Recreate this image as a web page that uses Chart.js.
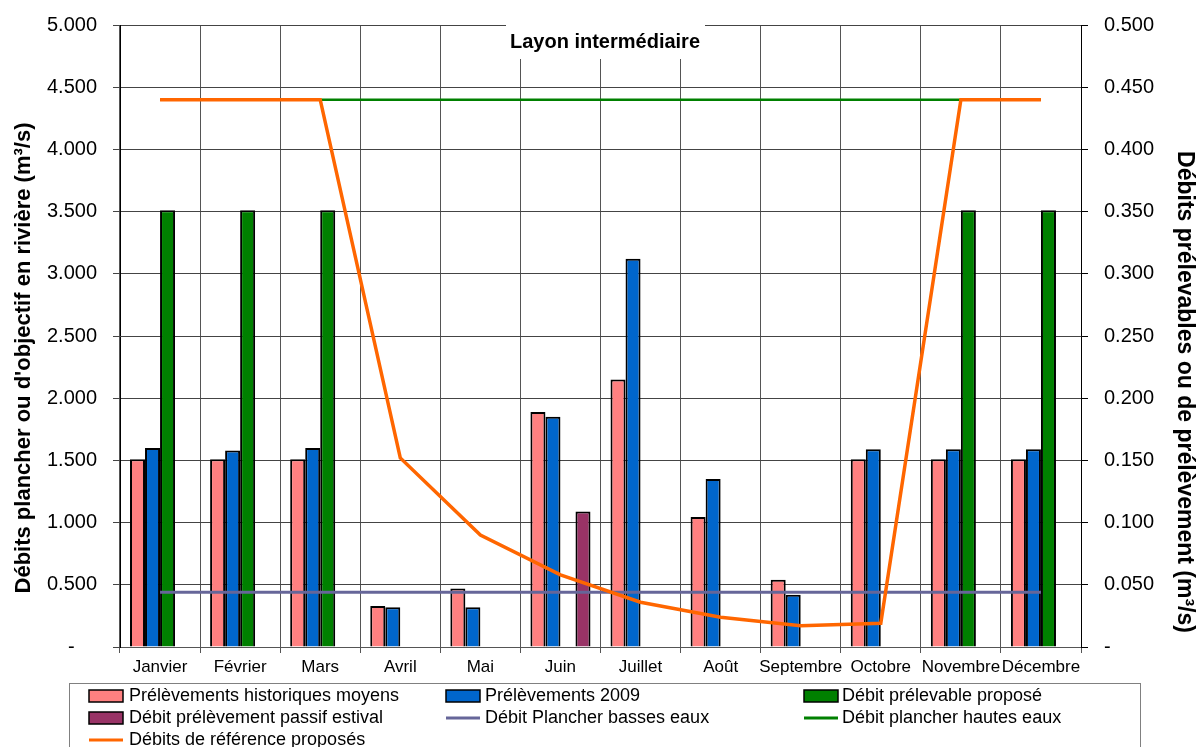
<!DOCTYPE html>
<html lang="fr">
<head>
<meta charset="utf-8">
<title>Layon intermédiaire</title>
<script src="https://cdn.jsdelivr.net/npm/chart.js@4.4.1/dist/chart.umd.min.js"></script>
<style>
body{margin:0;background:#fff;}
canvas{display:block;}
</style>
</head>
<body>
<canvas id="graphique" width="1198" height="747"></canvas>
<script>
const mois = ["Janvier","Février","Mars","Avril","Mai","Juin","Juillet","Août","Septembre","Octobre","Novembre","Décembre"];

// débits prélevables ou de prélèvement (axe de droite)
const prelevHisto   = [0.151,0.151,0.151,0.033,0.047,0.189,0.215,0.1045,0.054,0.151,0.151,0.151];
const prelev2009    = [0.160,0.158,0.160,0.032,0.032,0.185,0.312,0.135,0.042,0.159,0.159,0.159];
const prelevable    = [0.351,0.351,0.351,null,null,null,null,null,null,null,0.351,0.351];
const passifEstival = [null,null,null,null,null,0.109,null,null,null,null,null,null];

// débits plancher / objectif (axe de gauche)
const plancherBasses  = [0.44,0.44,0.44,0.44,0.44,0.44,0.44,0.44,0.44,0.44,0.44,0.44];
const plancherHautes  = [4.4,4.4,4.4,4.4,4.4,4.4,4.4,4.4,4.4,4.4,4.4,4.4];
const debitsReference = [4.4,4.4,4.4,1.52,0.90,0.58,0.36,0.24,0.17,0.19,4.4,4.4];

const titreGauche = "Débits plancher ou d'objectif en rivière (m³/s)";
const titreDroite = "Débits prélevables ou de prélèvement (m³/s)";

const POLICE = "'Liberation Sans', Arial, sans-serif";

/* titre dans un cadre blanc + titres des axes */
const titres = {
  id: "titres",
  afterDraw(chart){
    const ctx = chart.ctx;
    ctx.save();
    ctx.fillStyle = "#fff";
    ctx.fillRect(506, 18, 199, 41);
    ctx.fillStyle = "#000";
    ctx.font = "bold 20px " + POLICE;
    ctx.textAlign = "center";
    ctx.textBaseline = "middle";
    ctx.fillText("Layon intermédiaire", 605, 42);

    ctx.font = "bold 22px " + POLICE;
    ctx.save();
    ctx.translate(24, 358);
    ctx.rotate(-Math.PI / 2);
    ctx.fillText(titreGauche, 0, 0);
    ctx.restore();

    ctx.font = "bold 23px " + POLICE;
    ctx.save();
    ctx.translate(1184, 392);
    ctx.rotate(Math.PI / 2);
    ctx.fillText(titreDroite, 0, 0);
    ctx.restore();
    ctx.restore();
  }
};

/* légende en trois colonnes, dans un cadre */
const legendeCadre = {
  id: "legendeCadre",
  afterDraw(chart){
    const ctx = chart.ctx;
    const colsSymbole = [89, 446, 804];
    const colsTexte = [129, 485, 842];
    const lignes = [696, 718, 740];
    ctx.save();
    ctx.strokeStyle = "#808080";
    ctx.lineWidth = 1;
    ctx.strokeRect(69.5, 683.5, 1071, 80);
    ctx.font = "18px " + POLICE;
    ctx.textBaseline = "middle";
    ctx.textAlign = "left";
    chart.data.datasets.forEach((d, i) => {
      const c = i % 3, l = Math.floor(i / 3);
      const x = colsSymbole[c], y = lignes[l];
      if(d.type === "line"){
        ctx.strokeStyle = d.borderColor;
        ctx.lineWidth = 3;
        ctx.beginPath();
        ctx.moveTo(x, y);
        ctx.lineTo(x + 34, y);
        ctx.stroke();
      } else {
        ctx.fillStyle = d.backgroundColor;
        ctx.fillRect(x, y - 6, 34, 12);
        ctx.strokeStyle = "#000";
        ctx.lineWidth = 1.5;
        ctx.strokeRect(x, y - 6, 34, 12);
      }
      ctx.fillStyle = "#000";
      ctx.fillText(d.label, colsTexte[c], y);
    });
    ctx.restore();
  }
};

const barre = (label, data, couleur) => ({
  type: "bar", label, data, yAxisID: "y1",
  backgroundColor: couleur, borderColor: "#000", borderWidth: 2,
  categoryPercentage: 0.75, barPercentage: 1, order: 3
});

const ligne = (label, data, couleur, epaisseur, ordre) => ({
  type: "line", label, data, yAxisID: "y",
  borderColor: couleur, backgroundColor: couleur, borderWidth: epaisseur,
  pointRadius: 0, tension: 0, fill: false, order: ordre
});

new Chart(document.getElementById("graphique"), {
  data: {
    labels: mois,
    datasets: [
      barre("Prélèvements historiques moyens", prelevHisto, "#FF8080"),
      barre("Prélèvements 2009", prelev2009, "#0066CC"),
      barre("Débit prélevable proposé", prelevable, "#008000"),
      barre("Débit prélèvement passif estival", passifEstival, "#993366"),
      ligne("Débit Plancher basses eaux", plancherBasses, "#666699", 3, 1),
      ligne("Débit plancher hautes eaux", plancherHautes, "#008000", 2.5, 1),
      ligne("Débits de référence proposés", debitsReference, "#FF6600", 3.5, 0)
    ]
  },
  options: {
    responsive: false,
    animation: false,
    layout: { padding: { top: 25, left: 0, right: 0, bottom: 0 } },
    plugins: { legend: { display: false }, tooltip: { enabled: false } },
    scales: {
      x: {
        offset: true,
        grid: { offset: true, color: "#555", lineWidth: 1, tickLength: 6 },
        border: { color: "#555" },
        ticks: { color: "#000", font: { family: POLICE, size: 17 }, padding: 4, maxRotation: 0, autoSkip: false },
        afterFit(s){ s.height = 100; }
      },
      y: {
        position: "left",
        min: 0, max: 5,
        grid: { color: "#444", lineWidth: 1, tickLength: 7 },
        border: { color: "#000" },
        ticks: {
          stepSize: 0.5, color: "#000", padding: 16,
          font: { family: POLICE, size: 20 },
          callback: v => v === 0 ? "-    " : v.toFixed(3)
        },
        afterFit(s){ s.width = 120; s.paddingTop = 0; s.paddingBottom = 0; }
      },
      y1: {
        position: "right",
        min: 0, max: 0.5,
        grid: { drawOnChartArea: false, color: "#000", tickLength: 7 },
        border: { color: "#000" },
        ticks: {
          stepSize: 0.05, color: "#000", padding: 16,
          font: { family: POLICE, size: 20 },
          callback: v => Math.abs(v) < 1e-9 ? "-" : v.toFixed(3)
        },
        afterFit(s){ s.width = 117; s.paddingTop = 0; s.paddingBottom = 0; }
      }
    }
  },
  plugins: [titres, legendeCadre]
});
</script>
</body>
</html>
